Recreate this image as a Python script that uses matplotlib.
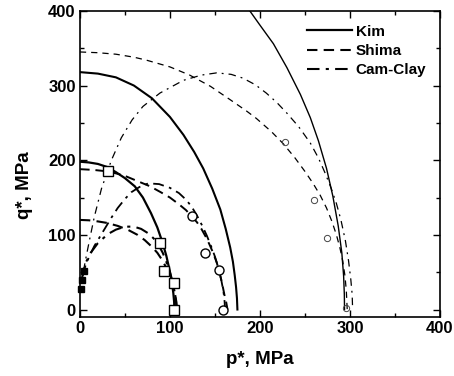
import matplotlib.pyplot as plt
from matplotlib.ticker import MultipleLocator

plt.rcParams["font.family"] = ["Liberation Sans", "DejaVu Sans"]
plt.rcParams["font.weight"] = "bold"

# Kim (solid)
kim1_p = [0, 10, 20, 30, 40, 50, 61, 70, 79, 86, 92, 96, 99.6, 102, 103.8, 104.7, 105]
kim1_q = [198, 197, 195, 191, 184, 176, 165, 150, 129, 110, 89, 72, 53, 38, 22, 10, 0]
kim2_p = [0, 20, 40, 60, 80, 100, 115, 127, 137, 147, 156, 162, 167, 170, 172, 173.5,
          174.5, 175]
kim2_q = [318, 316, 311, 300, 283, 258, 234, 211, 189, 162, 134, 108, 83, 64, 46, 30,
          15, 0]
kim3_p = [187, 200, 215, 230, 245, 256, 265, 274, 281, 287, 291, 293, 293.8, 294]
kim3_q = [403, 381, 356, 324, 288, 257, 226, 189, 152, 112, 76, 45, 20, 0]

# Shima (dashed)
shima1_p = [0, 10, 20, 30, 42, 53, 64, 72, 80, 86, 91, 96, 100, 103, 105.5, 107.2, 108]
shima1_q = [120, 119.5, 118, 116, 112, 107, 100, 93, 84, 76, 67, 56, 45, 34, 22, 10, 0]
shima2_p = [0, 15, 31, 48, 64, 78, 90, 100, 110, 118, 124, 130, 135, 140, 144, 148, 152,
            155, 158, 160.5, 162.5, 164]
shima2_q = [188, 187, 185, 180, 172, 165, 157, 150, 141, 133, 125, 117, 108, 97, 87, 76,
            63, 50, 35, 20, 10, 0]
shima3_p = [0, 20, 40, 60, 74, 100, 122, 145, 167, 185, 196, 213, 226, 239, 250, 259,
            267, 274, 280, 285, 289, 292, 294.5, 296, 297]
shima3_q = [345, 344, 342, 338, 334, 325, 314, 299, 281, 266, 256, 238, 222, 203, 185,
            169, 153, 136, 118, 100, 82, 65, 45, 25, 0]

# Cam-Clay (dash-dot)
cam1_p = [2, 4, 7, 12, 20, 31, 40, 50, 60, 68, 76, 83, 88, 92, 96, 100, 103, 105.5,
          106.8, 107.2]
cam1_q = [40, 52, 64, 76, 89, 101, 107, 111, 111, 108, 102, 94, 85, 76, 64, 50, 37, 22,
          10, 0]
cam2_p = [3, 6, 10, 16, 27, 35, 42, 50, 57, 66, 76, 88, 100, 110, 118, 124, 130, 136,
          141, 146, 150, 154, 157, 159.5, 160.8, 161.2]
cam2_q = [45, 58, 70, 85, 107, 123, 136, 148, 157, 164, 169, 168, 163, 156, 147, 138,
          126, 112, 99, 84, 71, 55, 40, 24, 10, 0]
cam3_p = [4, 7, 11, 16, 24, 35, 46, 58, 70, 89, 115, 135, 152, 168, 181, 195, 207, 219,
          230, 243, 256, 265, 272, 279, 285, 290, 295, 298.5, 301, 302.5, 303]
cam3_q = [52, 71, 95, 124, 162, 200, 230, 254, 272, 290, 307, 314, 317, 315, 310, 301,
          290, 277, 263, 245, 223, 203, 184, 163, 142, 120, 92, 65, 40, 20, 0]

# experimental points
sq_p = [31, 89, 93, 104, 104]
sq_q = [186, 89, 52, 35, 0]
circ_p = [124, 139, 155, 159]
circ_q = [125, 76, 53, 0]
tri_p = [228, 260, 274, 296]
tri_q = [225, 147, 96, 2]
fill_p = [4, 2, 1]
fill_q = [52, 40, 28]

fig = plt.figure(figsize=(4.54, 3.76), dpi=100)
ax = fig.add_axes([0.176, 0.157, 0.793, 0.814])

ax.plot(kim1_p, kim1_q, "k-", lw=1.6, label="Kim")
ax.plot(kim2_p, kim2_q, "k-", lw=1.5)
ax.plot(kim3_p, kim3_q, "k-", lw=1.0)

ax.plot(shima1_p, shima1_q, "k--", lw=1.5, dashes=(5, 3), label="Shima")
ax.plot(shima2_p, shima2_q, "k--", lw=1.4, dashes=(5, 3))
ax.plot(shima3_p, shima3_q, "k--", lw=0.9, dashes=(5, 4))

ax.plot(cam1_p, cam1_q, "k-.", lw=1.5, dashes=(6, 3, 1.5, 3), label="Cam-Clay")
ax.plot(cam2_p, cam2_q, "k-.", lw=1.3, dashes=(6, 3, 1.5, 3))
ax.plot(cam3_p, cam3_q, "k-.", lw=0.9, dashes=(6, 4, 1.5, 4))

ax.plot(sq_p, sq_q, "s", ms=6.5, mfc="white", mec="black", mew=1.0, ls="none")
ax.plot(circ_p, circ_q, "o", ms=6.5, mfc="white", mec="black", mew=1.0, ls="none")
ax.plot(tri_p, tri_q, "o", ms=4.5, mfc="none", mec="#444444", mew=0.7, ls="none")
ax.plot(fill_p, fill_q, "s", ms=5, color="black", ls="none", clip_on=False)

ax.set_xlim(0, 400)
ax.set_ylim(-10, 400)
ax.xaxis.set_major_locator(MultipleLocator(100))
ax.xaxis.set_minor_locator(MultipleLocator(50))
ax.yaxis.set_major_locator(MultipleLocator(100))
ax.yaxis.set_minor_locator(MultipleLocator(50))
ax.tick_params(which="both", direction="in", top=True, right=True, labelsize=12, pad=3)
ax.tick_params(which="major", length=5, width=1.0)
ax.tick_params(which="minor", length=3, width=1.0)
for s in ax.spines.values():
    s.set_linewidth(1.2)

ax.set_xlabel("p*, MPa", fontsize=13.5, fontweight="bold")
ax.set_ylabel("q*, MPa", fontsize=13.5, fontweight="bold")
ax.xaxis.set_label_coords(0.5, -0.11)
ax.yaxis.set_label_coords(-0.13, 0.43)

ax.legend(loc="upper right", frameon=False, fontsize=11, handlelength=3.0,
          handletextpad=0.2, labelspacing=0.35, borderaxespad=0.5)

fig.savefig("out.png", dpi=100)
